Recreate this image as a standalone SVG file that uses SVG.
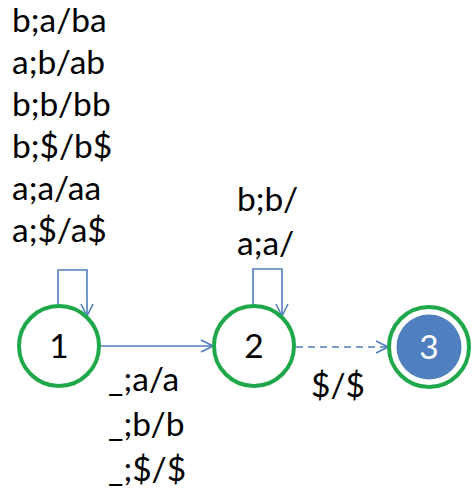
<svg xmlns="http://www.w3.org/2000/svg" width="474" height="503" viewBox="0 0 474 503">
<defs>
<style>
.lbl{font-family:Lato,"Liberation Sans",sans-serif;font-size:33.5px;fill:#000}
.node{fill:#fff;stroke:#1fa84a;stroke-width:4}
.edge{fill:none;stroke:#4f7fbe;stroke-width:1.6}
</style>
<marker id="arr" markerWidth="14" markerHeight="14" refX="13" refY="7" orient="auto" markerUnits="userSpaceOnUse">
<path d="M1,1 L13,7 L1,13" fill="none" stroke="#4f7fbe" stroke-width="1.6"/>
</marker>
</defs>
<rect width="474" height="503" fill="#fff"/>
<g id="connectors">
<path class="edge" d="M100,346 L213,346" marker-end="url(#arr)"/>
<path class="edge" d="M58,305 L58,270 L87,270 L87,316" marker-end="url(#arr)"/>
<path class="edge" d="M253,305 L253,269 L282,269 L282,316" marker-end="url(#arr)"/>
<path class="edge" d="M296,347 L388,347" stroke-dasharray="7,5" marker-end="url(#arr)"/>
</g>
<g id="labels">
<text class="lbl" x="12" y="32">b;a/ba</text>
<text class="lbl" x="12" y="74">a;b/ab</text>
<text class="lbl" x="12" y="116">b;b/bb</text>
<text class="lbl" x="12" y="158">b;$/b$</text>
<text class="lbl" x="12" y="200">a;a/aa</text>
<text class="lbl" x="12" y="242">a;$/a$</text>
<text class="lbl" x="237" y="211">b;b/</text>
<text class="lbl" x="237" y="255">a;a/</text>
<text class="lbl" x="108" y="391">_;a/a</text>
<text class="lbl" x="108" y="436">_;b/b</text>
<text class="lbl" x="108" y="481">_;$/$</text>
<text class="lbl" x="311" y="397">$/$</text>
</g>
<g id="node1">
<circle class="node" cx="59" cy="346" r="40"/>
<text class="lbl" x="59" y="358" text-anchor="middle">1</text>
</g>
<g id="node2">
<circle class="node" cx="254" cy="346" r="40"/>
<text class="lbl" x="254" y="358" text-anchor="middle">2</text>
</g>
<g id="node3">
<circle class="node" cx="429" cy="347" r="40"/>
<circle cx="429" cy="347" r="32.5" fill="#4f7fbe"/>
<text class="lbl" x="429" y="359" text-anchor="middle" style="fill:#fff">3</text>
</g>
</svg>
